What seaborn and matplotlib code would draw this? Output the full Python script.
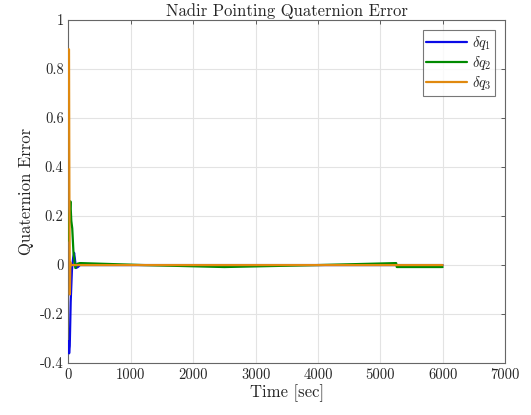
import numpy as np
import pandas as pd
import matplotlib
matplotlib.use("Agg")
import matplotlib.pyplot as plt
import seaborn as sns

# ---- data ----
t_q1 = [0, 10, 20, 35, 55, 75, 90, 105, 120, 150, 185, 6000]
q1 = [-0.31, -0.36, -0.33, -0.15, -0.02, 0.03, 0.05, 0.02, -0.012, -0.008, 0.0, 0.0]

t_q2 = [0, 15, 30, 45, 60, 80, 110, 140, 180, 200, 1200, 2500, 4000, 5255, 5265, 6000]
q2 = [0.10, 0.20, 0.26, 0.18, 0.15, 0.05, -0.012, 0.005, 0.008, 0.008, 0.0, -0.008, 0.0, 0.008, -0.008, -0.008]

t_q3 = [0, 8, 14, 22, 30, 45, 6000]
q3 = [0.88, 0.88, 0.30, -0.12, 0.01, 0.0, 0.0]

series_names = [r"$\delta q_1$", r"$\delta q_2$", r"$\delta q_3$"]
colors = ["#0a0ae6", "#008a00", "#e0890f"]

x_ticks = [0, 1000, 2000, 3000, 4000, 5000, 6000, 7000]
y_ticks = [-0.4, -0.2, 0, 0.2, 0.4, 0.6, 0.8, 1]
y_tick_labels = ["-0.4", "-0.2", "0", "0.2", "0.4", "0.6", "0.8", "1"]

df = pd.concat([
    pd.DataFrame({"t": t_q1, "v": q1, "s": series_names[0]}),
    pd.DataFrame({"t": t_q2, "v": q2, "s": series_names[1]}),
    pd.DataFrame({"t": t_q3, "v": q3, "s": series_names[2]}),
], ignore_index=True)

sns.set_style("white")
plt.rcParams["font.family"] = "serif"
plt.rcParams["font.serif"] = ["cmr10", "DejaVu Serif"]
plt.rcParams["mathtext.fontset"] = "cm"
plt.rcParams["axes.formatter.use_mathtext"] = True
plt.rcParams["axes.unicode_minus"] = False

fig = plt.figure(figsize=(5.31, 4.15), dpi=100)
ax = fig.add_axes([0.129, 0.125, 0.822, 0.827])

sns.lineplot(data=df, x="t", y="v", hue="s", palette=colors, estimator=None,
             sort=False, linewidth=1.6, ax=ax)
for ln in ax.get_lines():
    ln.set_zorder(3)

ax.set_xlim(0, 7000)
ax.set_ylim(-0.4, 1)
ax.set_xticks(x_ticks)
ax.set_xticklabels([str(v) for v in x_ticks])
ax.set_yticks(y_ticks)
ax.set_yticklabels(y_tick_labels)
ax.grid(True, color="#e3e3e3", linewidth=0.8)
ax.set_axisbelow(True)
ax.tick_params(direction="in", length=3, top=True, right=True, labelsize=10.5,
               color="#444444", width=0.6)
for sp in ax.spines.values():
    sp.set_color("#666666")
    sp.set_linewidth(0.8)
    sp.set_zorder(2)

ax.set_xlabel("Time [sec]", fontsize=12, labelpad=2)
ax.set_ylabel("Quaternion Error", fontsize=12, labelpad=4)
ax.set_title("Nadir Pointing Quaternion Error", fontsize=12, pad=3)

leg = ax.legend(title=None, loc="upper right", fontsize=10.5, frameon=True,
                fancybox=False, edgecolor="#555555", handlelength=2.8,
                borderaxespad=0.7, labelspacing=0.15, handletextpad=0.3,
                borderpad=0.25)
leg.get_frame().set_linewidth(0.8)
leg.set_zorder(5)

fig.savefig("out.png", dpi=100)
